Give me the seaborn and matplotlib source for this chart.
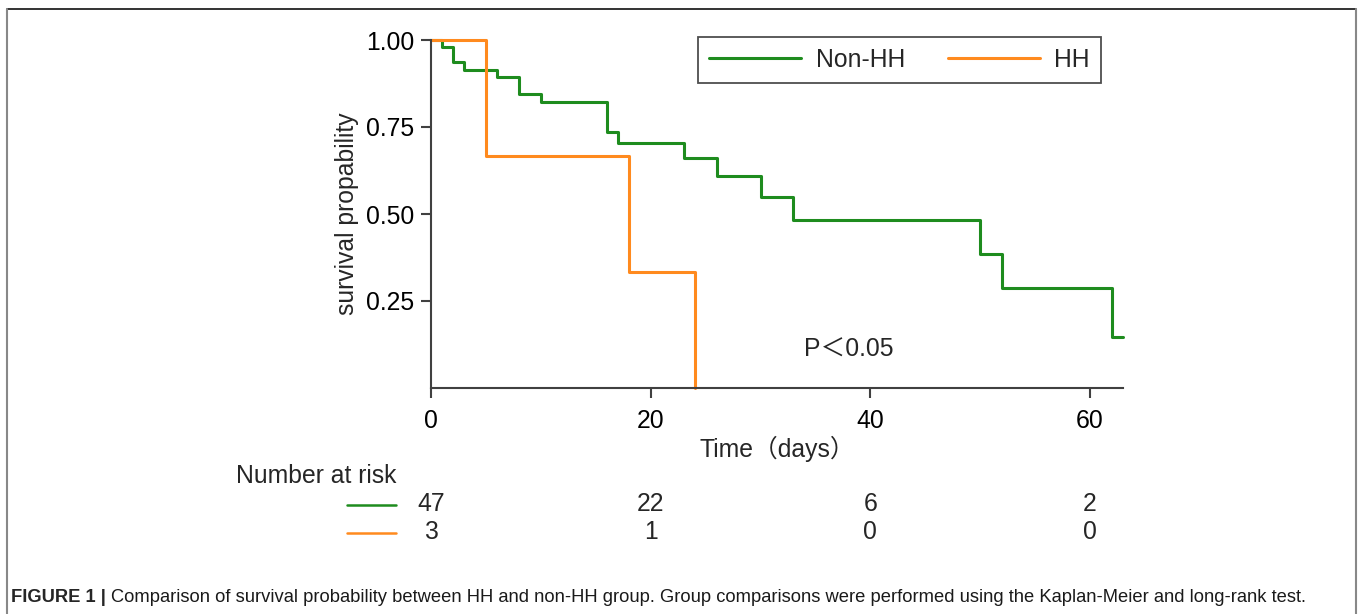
import numpy as np
import pandas as pd
import matplotlib
matplotlib.use("Agg")
import matplotlib.pyplot as plt
from matplotlib.lines import Line2D
import matplotlib.transforms as mtransforms
import seaborn as sns

# ---- data ----
groups = ["Non-HH", "HH"]
nonhh_time = [0, 1, 2, 3, 6, 8, 10, 16, 17, 23, 26, 30, 33, 50, 52, 62, 63]
nonhh_surv = [1.0, 0.979, 0.936, 0.915, 0.894, 0.846, 0.822, 0.737, 0.705,
              0.662, 0.610, 0.549, 0.482, 0.385, 0.288, 0.146, 0.146]
hh_time = [0, 5, 18, 24]
hh_surv = [1.0, 0.667, 0.333, 0.0]
risk_times = [0, 20, 40, 60]
risk_nonhh = [47, 22, 6, 2]
risk_hh = [3, 1, 0, 0]
xticks = [0, 20, 40, 60]
yticks = [0.25, 0.50, 0.75, 1.00]
ytick_labels = ["0.25", "0.50", "0.75", "1.00"]

colors = {"Non-HH": "#1e8c1e", "HH": "#ff8a1e"}

df = pd.concat([
    pd.DataFrame({"time": nonhh_time, "surv": nonhh_surv, "group": "Non-HH"}),
    pd.DataFrame({"time": hh_time, "surv": hh_surv, "group": "HH"}),
], ignore_index=True)

sns.set_style("white")
plt.rcParams["font.family"] = ["Liberation Sans", "Noto Sans CJK SC", "DejaVu Sans"]

FS = 17.8
W, H = 1360, 614
fig = plt.figure(figsize=(W / 100, H / 100), dpi=100)
ax = fig.add_axes([431 / W, 1 - 388 / H, (1123 - 431) / W, (388 - 40) / H])

sns.lineplot(data=df, x="time", y="surv", hue="group", palette=colors,
             estimator=None, sort=False, drawstyle="steps-post",
             linewidth=2.2, legend=False, ax=ax)
for ln in ax.lines:
    ln.set_clip_on(False)

ax.set_xlim(0, 63)
ax.set_ylim(0, 1.0)
ax.set_xticks(xticks)
ax.set_xticklabels([str(t) for t in xticks])
ax.set_yticks(yticks)
ax.set_yticklabels(ytick_labels)
for s in ["top", "right"]:
    ax.spines[s].set_visible(False)
for s in ["left", "bottom"]:
    ax.spines[s].set_color("#404040")
    ax.spines[s].set_linewidth(1.5)
ax.tick_params(axis="both", which="major", bottom=True, left=True,
               direction="out", length=7, width=1.5,
               color="#404040", labelsize=FS, labelcolor="#000000", pad=5)
ax.tick_params(axis="x", pad=8)
ax.set_xlabel("Time（days）", fontsize=FS, labelpad=2)
ax.set_ylabel("survival propability", fontsize=FS, labelpad=5)

ax.text(34, 0.11, "P＜0.05", fontsize=FS, va="center", ha="left")

handles = [Line2D([0], [0], color=colors[g], lw=2.2) for g in groups]
leg = ax.legend(handles, groups, loc="upper left", bbox_to_anchor=(0.386, 1.009),
                ncol=2, frameon=True, fancybox=False, fontsize=FS,
                handlelength=3.7, columnspacing=1.75, handletextpad=0.6,
                borderpad=0.45, borderaxespad=0)
leg.get_frame().set_edgecolor("#222222")
leg.get_frame().set_linewidth(1.3)

# ---- number at risk ----
trans = mtransforms.blended_transform_factory(ax.transData, fig.transFigure)
fig.text(236 / W, 1 - 476 / H, "Number at risk", fontsize=FS, ha="left", va="center")
for yy, vals, g in [(504, risk_nonhh, "Non-HH"), (532, risk_hh, "HH")]:
    fig.add_artist(Line2D([347 / W, 396 / W], [1 - (yy + 1) / H] * 2,
                          color=colors[g], lw=1.8, transform=fig.transFigure))
    for t, v in zip(risk_times, vals):
        ax.text(t, 1 - yy / H, str(v), transform=trans, fontsize=FS,
                ha="center", va="center", clip_on=False)

# ---- border and caption ----
fig.add_artist(Line2D([7 / W, 1356 / W], [1 - 9 / H] * 2, color="#111111", lw=1.2,
                      transform=fig.transFigure))
for xx in (7, 1356):
    fig.add_artist(Line2D([xx / W] * 2, [1 - 9 / H, 0], color="#888888", lw=1.5,
                          transform=fig.transFigure))

cap_y = 1 - 598 / H
t1 = fig.text(11 / W, cap_y, "FIGURE 1 | ", fontsize=13.2, fontweight="bold",
              ha="left", va="center")
fig.canvas.draw()
bb = t1.get_window_extent()
fig.text(bb.x1 / W, cap_y,
         "Comparison of survival probability between HH and non-HH group. Group comparisons were performed using the Kaplan-Meier and long-rank test.",
         fontsize=13.2, ha="left", va="center", color="#1a1a1a")

fig.savefig("out.png", dpi=100)
